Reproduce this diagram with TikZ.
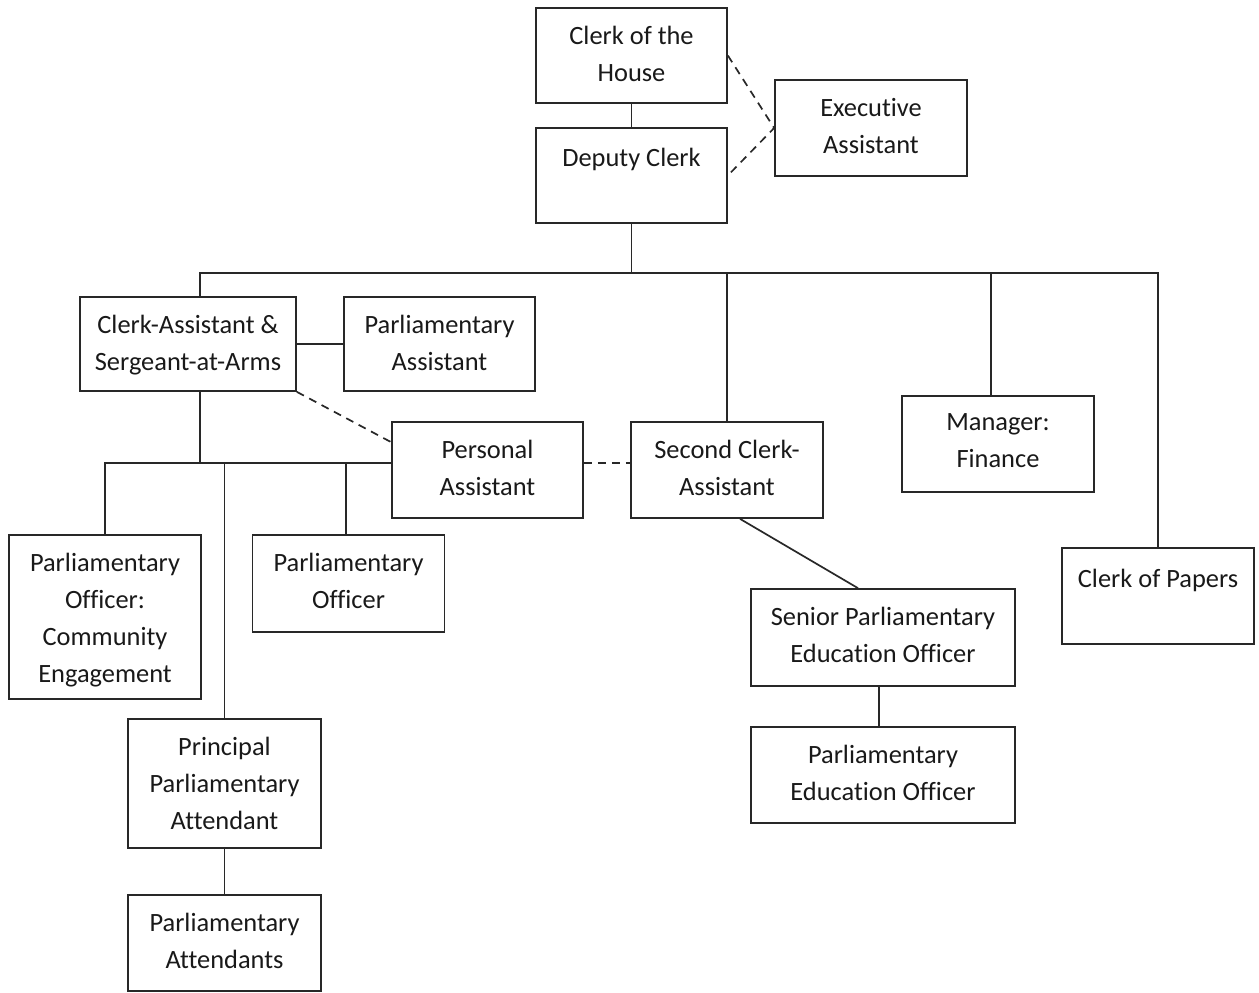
\documentclass[tikz,border=0pt]{standalone}
\usepackage{fontspec}
\setmainfont{Carlito}[Ligatures=NoCommon]
\usetikzlibrary{calc}
\definecolor{ln}{RGB}{40,40,40}
\definecolor{tx}{RGB}{25,25,25}
\tikzset{
  box/.style={draw=ln, line width=0.85pt, inner sep=0pt, fill=white},
  lbl/.style={anchor=north, align=center, inner sep=0pt, text=tx,
    font=\fontsize{13.2}{18.5}\selectfont, execute at begin node={\rule{0pt}{12pt}}},
  conn/.style={draw=ln, line width=0.85pt},
  dconn/.style={draw=ln, line width=0.85pt, dash pattern=on 4pt off 3pt},
}
\begin{document}
\begin{tikzpicture}[x=0.5pt, y=-0.5pt]
\useasboundingbox[fill=white] (0,0) rectangle (1259,992);

% boxes
\node[box, minimum width=95.5pt, minimum height=47.5pt] (ch) at (631.5,55.5) {};
\node[box, minimum width=95.5pt, minimum height=47.5pt] (dc) at (631.5,175.5) {};
\node[box, minimum width=96pt, minimum height=48pt] (ea) at (871,128) {};
\node[box, minimum width=108pt, minimum height=47pt] (ca) at (188,344) {};
\node[box, minimum width=95.5pt, minimum height=47pt] (pa) at (439.5,344) {};
\node[box, minimum width=95.5pt, minimum height=48pt] (pers) at (487.5,470) {};
\node[box, minimum width=96pt, minimum height=48pt] (sca) at (727,470) {};
\node[box, minimum width=96pt, minimum height=48pt] (mf) at (998,444) {};
\node[box, minimum width=96pt, minimum height=48pt] (cp) at (1158,596) {};
\node[box, minimum width=96pt, minimum height=82pt] (poce) at (105,617) {};
\node[box, minimum width=96pt, minimum height=48.5pt] (po) at (348.5,583.5) {};
\node[box, minimum width=132pt, minimum height=48.5pt] (sen) at (883,637.5) {};
\node[box, minimum width=132pt, minimum height=48pt] (peo) at (883,775) {};
\node[box, minimum width=96.5pt, minimum height=64.5pt] (ppa) at (224.5,783.5) {};
\node[box, minimum width=96.5pt, minimum height=48pt] (att) at (224.5,943) {};

% labels
\tikzset{lblsh/.style={yshift=-9.25pt}}
\node[lbl] (tch) at ([lblsh]ch.north) {Clerk of the\\House};
\node[lbl] (tdc) at ([yshift=-7.5pt]dc.north) {Deputy Clerk};
\node[lbl] (tea) at ([lblsh]ea.north) {Executive\\Assistant};
\node[lbl] (tca) at ([lblsh]ca.north) {Clerk-Assistant \&\\Sergeant-at-Arms};
\node[lbl] (tpa) at ([lblsh]pa.north) {Parliamentary\\Assistant};
\node[lbl] (tpers) at ([lblsh]pers.north) {Personal\\Assistant};
\node[lbl] (tsca) at ([lblsh]sca.north) {Second Clerk-\\Assistant};
\node[lbl] (tmf) at ([lblsh]mf.north) {Manager:\\Finance};
\node[lbl] (tcp) at ([yshift=-8pt]cp.north) {Clerk of Papers};
\node[lbl] (tpoce) at ([lblsh]poce.north) {Parliamentary\\Officer:\\Community\\Engagement};
\node[lbl] (tpo) at ([lblsh]po.north) {Parliamentary\\Officer};
\node[lbl] (tsen) at ([lblsh]sen.north) {Senior Parliamentary\\Education Officer};
\node[lbl] (tpeo) at ([lblsh]peo.north) {Parliamentary\\Education Officer};
\node[lbl] (tppa) at ([lblsh]ppa.north) {Principal\\Parliamentary\\Attendant};
\node[lbl] (tatt) at ([lblsh]att.north) {Parliamentary\\Attendants};

% top connectors
\draw[conn] (ch.south) -- (dc.north);
\draw[dconn] (ch.east) -- (ea.west) -- (dc.east);

% main bus
\coordinate (j1) at ($(dc.south)+(0,49)$);
\coordinate (caT) at ($(ca.north)+(12,0)$);
\coordinate (mfT) at ($(mf.north)+(-7,0)$);
\draw[conn] (dc.south) -- (j1);
\draw[conn] (caT) |- (j1) -| (cp.north);
\draw[conn] (sca.north) -- (sca.north |- j1);
\draw[conn] (mfT) -- (mfT |- j1);

% clerk-assistant group
\draw[conn] (ca.east) -- (pa.west);
\coordinate (persNW) at ($(pers.north west)+(0,21)$);
\draw[dconn] (ca.south east) -- (persNW);
\coordinate (caB) at ($(ca.south)+(12,0)$);
\coordinate (j2) at ($(ca.south)+(12,72)$);
\coordinate (persW) at ($(pers.west)+(0,-7)$);
\coordinate (poT) at ($(po.north)+(-2.5,0)$);
\draw[conn] (caB) -- (j2);
\draw[conn] (poce.north) |- (persW);
\draw[conn] (poT) -- (poT |- j2);
\draw[conn] (ppa.north) -- (ppa.north |- j2);
\draw[conn] (ppa.south) -- (att.north);

% second clerk-assistant group
\coordinate (persE) at ($(pers.east)+(0,-7)$);
\coordinate (scaW) at ($(sca.west)+(0,-7)$);
\coordinate (scaB) at ($(sca.south)+(13,0)$);
\coordinate (senT) at ($(sen.north)+(-25,0)$);
\coordinate (senB) at ($(sen.south)+(-4,0)$);
\coordinate (peoT) at ($(peo.north)+(-4,0)$);
\draw[dconn] (persE) -- (scaW);
\draw[conn] (scaB) -- (senT);
\draw[conn] (senB) -- (peoT);
\end{tikzpicture}
\end{document}
